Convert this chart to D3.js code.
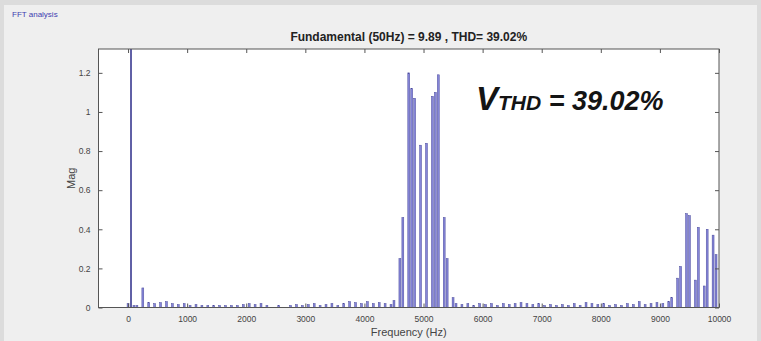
<!DOCTYPE html>
<html>
<head>
<meta charset="utf-8">
<script src="https://cdn.jsdelivr.net/npm/d3@7"></script>
<style>
  html, body { margin: 0; padding: 0; background: #dcdcdc; }
  svg { display: block; }
  text { font-family: "Liberation Sans", Arial, sans-serif; }
</style>
</head>
<body>
<script>
// ---- spectrum data: [frequency (Hz), magnitude] ----
const fundamentalHz = 50;
const fundamentalMag = 9.89;
const thdPercent = 39.02;

const fundamental = [[fundamentalHz, fundamentalMag]];

const lowBand = [
  [0, 0.02], [100, 0.01], [150, 0.01], [250, 0.10], [350, 0.025], [450, 0.02],
  [550, 0.025], [650, 0.03], [750, 0.02], [850, 0.015], [950, 0.02], [1050, 0.01],
  [1150, 0.015], [1250, 0.01], [1350, 0.01], [1450, 0.01], [1550, 0.01], [1650, 0.01],
  [1750, 0.01], [1850, 0.01], [1950, 0.015], [2050, 0.02], [2150, 0.015], [2250, 0.02],
  [2350, 0.01], [2550, 0.01], [2750, 0.01], [2850, 0.015], [2950, 0.01], [3050, 0.015],
  [3150, 0.02], [3250, 0.01], [3350, 0.015], [3450, 0.02], [3550, 0.01], [3650, 0.02],
  [3750, 0.03], [3850, 0.025], [3950, 0.02], [4050, 0.03], [4150, 0.02], [4250, 0.025],
  [4350, 0.02], [4450, 0.015], [4500, 0.035]
];

const carrierBand = [
  [4600, 0.25], [4650, 0.46], [4750, 1.20], [4800, 1.12], [4850, 1.07], [4950, 0.83],
  [5050, 0.84], [5150, 1.08], [5200, 1.10], [5250, 1.19], [5350, 0.46], [5400, 0.25]
];

const midBand = [
  [5500, 0.05], [5550, 0.02], [5650, 0.015], [5750, 0.02], [5850, 0.01], [5950, 0.02],
  [6050, 0.015], [6150, 0.02], [6250, 0.01], [6350, 0.02], [6450, 0.015], [6550, 0.02],
  [6650, 0.025], [6750, 0.02], [6850, 0.015], [6950, 0.02], [7050, 0.01], [7150, 0.015],
  [7250, 0.01], [7350, 0.015], [7450, 0.01], [7550, 0.02], [7650, 0.01], [7750, 0.025],
  [7850, 0.02], [7950, 0.015], [8050, 0.02], [8150, 0.01], [8250, 0.015], [8350, 0.01],
  [8450, 0.02], [8550, 0.015], [8650, 0.03], [8750, 0.015], [8850, 0.02], [8950, 0.025],
  [9050, 0.02], [9150, 0.03]
];

const upperBand = [
  [9200, 0.05], [9300, 0.15], [9350, 0.21], [9450, 0.48], [9500, 0.47], [9600, 0.14],
  [9650, 0.41], [9750, 0.11], [9800, 0.40], [9900, 0.37], [9950, 0.27]
];

const xTicks = [0, 1000, 2000, 3000, 4000, 5000, 6000, 7000, 8000, 9000, 10000];
const yTicks = [0, 0.2, 0.4, 0.6, 0.8, 1, 1.2];

// ---- layout ----
const W = 761, H = 341;
const plot = { left: 98.5, right: 719, top: 49, bottom: 307.5 };

const svg = d3.select("body").append("svg").attr("width", W).attr("height", H);

// window panel
svg.append("rect").attr("x", 0).attr("y", 0).attr("width", W).attr("height", H).attr("fill", "#dcdcdc");
svg.append("rect").attr("x", 4).attr("y", 5).attr("width", W - 8).attr("height", H - 5).attr("fill", "#efefef");
svg.append("text").attr("x", 12).attr("y", 17)
  .attr("font-size", 8).attr("fill", "#4040b0").text("FFT analysis");

const x = d3.scaleLinear().domain([-500, 10000]).range([plot.left, plot.right]);
const y = d3.scaleLinear().domain([0, 1.322]).range([plot.bottom, plot.top]);

svg.append("rect")
  .attr("x", plot.left).attr("y", plot.top)
  .attr("width", plot.right - plot.left).attr("height", plot.bottom - plot.top)
  .attr("fill", "#ffffff");

svg.append("clipPath").attr("id", "plotClip").append("rect")
  .attr("x", plot.left).attr("y", plot.top)
  .attr("width", plot.right - plot.left).attr("height", plot.bottom - plot.top);

// bars
const halfW = 16;
const spectrum = [].concat(lowBand, carrierBand, midBand, upperBand);
const barG = svg.append("g").attr("clip-path", "url(#plotClip)");

barG.selectAll("rect.h").data(spectrum).join("rect")
  .attr("class", "h")
  .attr("x", d => x(d[0] - halfW))
  .attr("width", d => x(d[0] + halfW) - x(d[0] - halfW))
  .attr("y", d => y(d[1]))
  .attr("height", d => y(0) - y(d[1]))
  .attr("fill", "#8585d8")
  .attr("stroke", "#4a4a9c")
  .attr("stroke-width", 0.5);

barG.selectAll("rect.f").data(fundamental).join("rect")
  .attr("class", "f")
  .attr("x", d => x(d[0] - 12))
  .attr("width", d => x(d[0] + 12) - x(d[0] - 12))
  .attr("y", d => y(d[1]))
  .attr("height", d => y(0) - y(d[1]))
  .attr("fill", "#5555a8")
  .attr("stroke", "#3c3c8c")
  .attr("stroke-width", 0.5);

// axes (ticks pointing inward, on all four sides)
const axisColor = "#555";
function styleAxis(g) {
  g.select(".domain").remove();
  g.selectAll(".tick line").attr("stroke", axisColor);
  g.selectAll(".tick text").attr("fill", "#444").attr("font-size", 8.5);
}
svg.append("g").attr("transform", `translate(0,${plot.bottom})`)
  .call(d3.axisBottom(x).tickValues(xTicks).tickFormat(d3.format("d")).tickSizeInner(-4).tickPadding(8))
  .call(styleAxis);
svg.append("g").attr("transform", `translate(0,${plot.top})`)
  .call(d3.axisTop(x).tickValues(xTicks).tickFormat("").tickSizeInner(-4))
  .call(styleAxis);
svg.append("g").attr("transform", `translate(${plot.left},0)`)
  .call(d3.axisLeft(y).tickValues(yTicks).tickFormat(d3.format("~g")).tickSizeInner(-4).tickPadding(8))
  .call(styleAxis);
svg.append("g").attr("transform", `translate(${plot.right},0)`)
  .call(d3.axisRight(y).tickValues(yTicks).tickFormat("").tickSizeInner(-4))
  .call(styleAxis);

svg.append("rect")
  .attr("x", plot.left).attr("y", plot.top)
  .attr("width", plot.right - plot.left).attr("height", plot.bottom - plot.top)
  .attr("fill", "none").attr("stroke", axisColor).attr("stroke-width", 1);

// titles
const cx = (plot.left + plot.right) / 2;
svg.append("text").attr("x", cx).attr("y", 41)
  .attr("text-anchor", "middle").attr("font-size", 12).attr("font-weight", "bold").attr("fill", "#222")
  .text(`Fundamental (${fundamentalHz}Hz) = ${fundamentalMag.toFixed(2)} , THD= ${thdPercent.toFixed(2)}%`);

svg.append("text").attr("x", cx).attr("y", 336)
  .attr("text-anchor", "middle").attr("font-size", 11).attr("fill", "#444")
  .text("Frequency (Hz)");

svg.append("text")
  .attr("transform", `translate(75,${(plot.top + plot.bottom) / 2}) rotate(-90)`)
  .attr("text-anchor", "middle").attr("font-size", 11).attr("fill", "#444")
  .text("Mag");

// THD annotation
const ann = svg.append("text").attr("x", 476).attr("y", 110)
  .attr("font-weight", "bold").attr("font-style", "italic").attr("fill", "#141414");
ann.append("tspan").attr("font-size", 33).text("V");
ann.append("tspan").attr("font-size", 21).text("THD");
ann.append("tspan").attr("font-size", 27).text(` = ${thdPercent.toFixed(2)}%`);
</script>
</body>
</html>
